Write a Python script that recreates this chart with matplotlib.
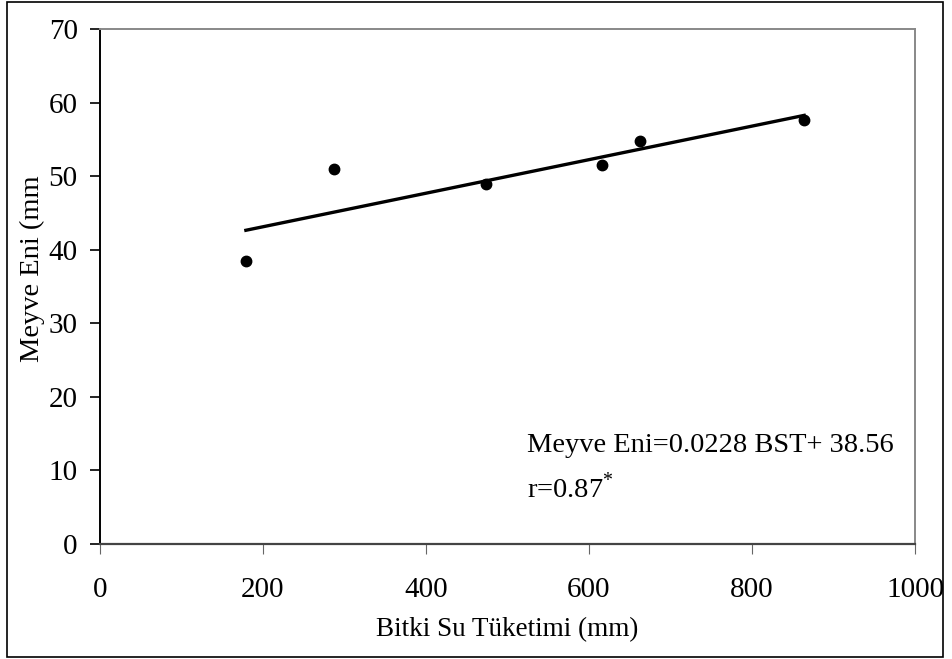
import numpy as np
import matplotlib.pyplot as plt
from matplotlib.patches import Rectangle

plt.rcParams['font.family'] = ['Liberation Serif', 'DejaVu Serif']
plt.rcParams['mathtext.fontset'] = 'custom'
plt.rcParams['mathtext.rm'] = 'Liberation Serif'

# veriler
bst = [179, 287, 474, 616, 663, 864]
meyve_eni = [38.5, 51.0, 48.9, 51.5, 54.8, 57.6]
egim = 0.0228
kesisim = 38.56
x_ticks = [0, 200, 400, 600, 800, 1000]
y_ticks = [0, 10, 20, 30, 40, 50, 60, 70]

fig = plt.figure(figsize=(9.53, 6.59), dpi=100)
ax = fig.add_axes([100 / 953, 1 - 544 / 659, 815 / 953, 515 / 659])

# noktalar ve regresyon doğrusu
ax.plot(bst, meyve_eni, 'o', color='black', markersize=7.5, zorder=3)
xf = np.array([min(bst), max(bst)])
ax.plot(xf, egim * xf + kesisim, '-', color='black', linewidth=2.4, zorder=2)

ax.set_xlim(0, 1000)
ax.set_ylim(0, 70)
ax.set_xticks(x_ticks)
ax.set_yticks(y_ticks)
ax.tick_params(axis='both', direction='out', length=7, labelsize=21)
ax.tick_params(axis='x', color='#666666', pad=17)
ax.tick_params(axis='y', color='black', width=1.2, pad=9)

ax.spines['left'].set_color('black')
ax.spines['left'].set_linewidth(1.4)
ax.spines['bottom'].set_color('#444444')
ax.spines['bottom'].set_linewidth(1.6)
ax.spines['top'].set_color('#888888')
ax.spines['top'].set_linewidth(1.4)
ax.spines['right'].set_color('#888888')
ax.spines['right'].set_linewidth(1.4)

ax.set_xlabel('Bitki Su Tüketimi (mm)', fontsize=19.5, labelpad=10)
ax.set_ylabel('Meyve Eni (mm', fontsize=20.5)
ax.yaxis.set_label_coords(-0.068, 0.535)

ax.text(527, 659 - 445, 'Meyve Eni=0.0228 BST+ 38.56', transform=None,
        fontsize=20.5, va='center', ha='left')
ax.text(527, 659 - 488, r'r=0.87$^{*}$', fontsize=20.5, va='center', ha='left',
        transform=None)

# dış çerçeve
fig.patches.append(Rectangle((7 / 953, 2 / 659), 936 / 953, 655 / 659,
                             transform=fig.transFigure, fill=False,
                             edgecolor='black', linewidth=1.2))

plt.savefig('out.png', dpi=100)
